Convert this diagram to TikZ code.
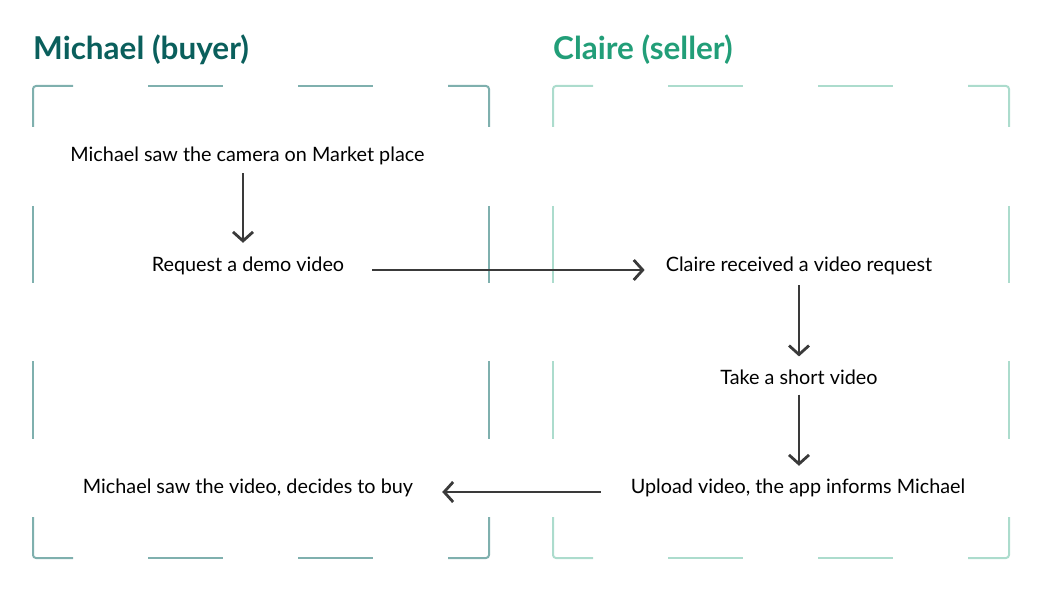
\documentclass[tikz,border=0pt]{standalone}
\usepackage{fontspec}
\setmainfont{Lato}
\usetikzlibrary{arrows.meta}
\definecolor{buyertitle}{RGB}{10,95,92}
\definecolor{buyerline}{RGB}{127,176,174}
\definecolor{sellertitle}{RGB}{34,158,120}
\definecolor{sellerline}{RGB}{172,220,205}
\definecolor{arrowgray}{RGB}{58,58,58}
\newcommand{\lanebox}[3]{%
  \begin{scope}[#3, line width=2, rounded corners=3]
  \draw (#1,#2+41) -- (#1,#2) -- (#1+40,#2);
  \draw (#1+415,#2) -- (#1+456,#2) -- (#1+456,#2+41);
  \draw (#1,#2+431) -- (#1,#2+472) -- (#1+40,#2+472);
  \draw (#1+415,#2+472) -- (#1+456,#2+472) -- (#1+456,#2+431);
  \end{scope}
  \begin{scope}[#3, line width=2]
  \draw (#1+115,#2) -- (#1+190,#2);
  \draw (#1+265,#2) -- (#1+340,#2);
  \draw (#1+115,#2+472) -- (#1+190,#2+472);
  \draw (#1+265,#2+472) -- (#1+340,#2+472);
  \draw (#1,#2+120) -- (#1,#2+197);
  \draw (#1,#2+275) -- (#1,#2+353);
  \draw (#1+456,#2+120) -- (#1+456,#2+197);
  \draw (#1+456,#2+275) -- (#1+456,#2+353);
  \end{scope}}
\begin{document}
\begin{tikzpicture}[x=1pt,y=-1pt,
  steptext/.style={inner sep=0pt, font=\fontsize{19.8}{22}\selectfont, text=black},
  lanetitle/.style={inner sep=0pt, anchor=base west, font=\fontsize{31.5}{34}\selectfont\bfseries},
  flowarrow/.style={draw=arrowgray, line width=2.8, -{Straight Barb[length=9,width=20,line width=2.8]}}]
\useasboundingbox (0,0) rectangle (1042,596);
\lanebox{33}{86}{draw=buyerline}
\lanebox{553}{86}{draw=sellerline}
\node[lanetitle, text=buyertitle] (tbuyer) at (33,60) {Michael (buyer)};
\node[lanetitle, text=sellertitle] (tseller) at (553,60) {Claire (seller)};
\node[steptext] (saw) at (247.5,156) {Michael saw the camera on Market place};
\node[steptext] (req) at (248,266) {Request a demo video};
\node[steptext] (rec) at (799,266) {Claire received a video request};
\node[steptext] (take) at (799,377) {Take a short video};
\node[steptext] (up) at (798,488) {Upload video, the app informs Michael};
\node[steptext] (buy) at (248,488) {Michael saw the video, decides to buy};
\draw[flowarrow] ([xshift=-4.5,yshift=-8]saw.south) -- ([xshift=-5,yshift=14]req.north);
\draw[flowarrow] ([xshift=28,yshift=-4]req.east) -- ([xshift=-21,yshift=-4]rec.west);
\draw[flowarrow] ([yshift=-10]rec.south) -- ([yshift=13]take.north);
\draw[flowarrow] ([yshift=-10]take.south) -- ([xshift=1,yshift=13]up.north);
\draw[flowarrow] ([xshift=-30,yshift=-4]up.west) -- ([xshift=29,yshift=-4]buy.east);
\end{tikzpicture}
\end{document}
